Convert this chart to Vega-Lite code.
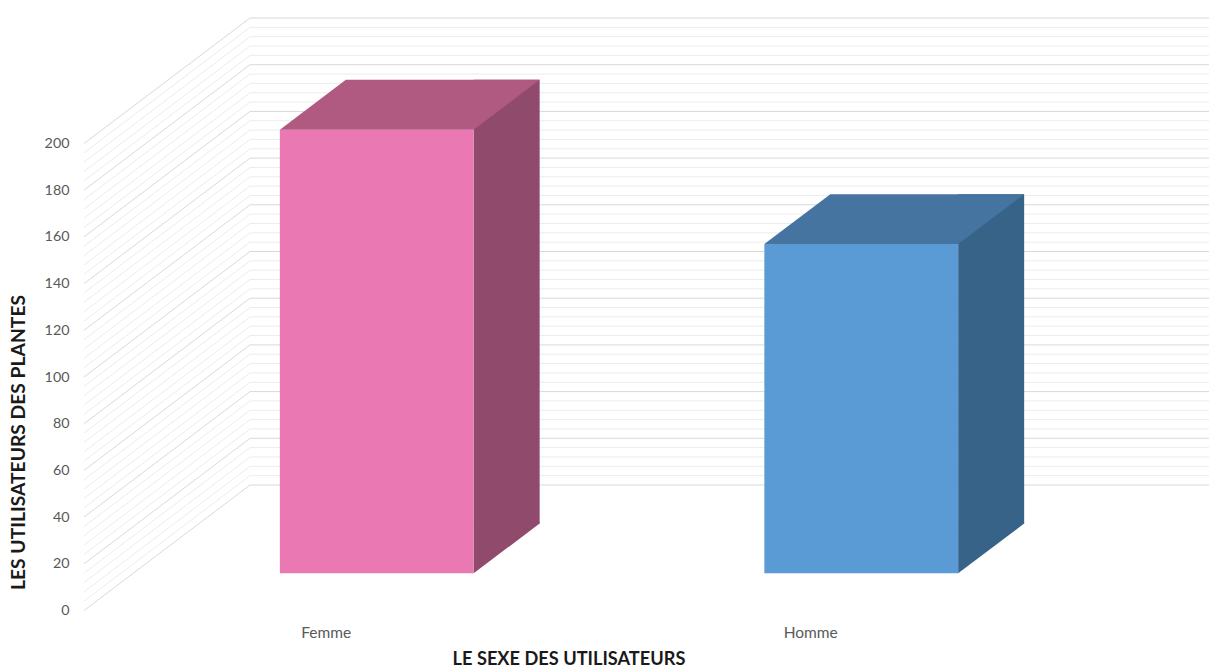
{
  "$schema": "https://vega.github.io/schema/vega-lite/v6.json",
  "width": 969,
  "height": 467,
  "autosize": {"type": "none"},
  "padding": {"left": 84, "top": 143.5, "right": 156, "bottom": 57.5},
  "background": "white",
  "config": {"view": {"stroke": null}, "font": "Lato", "axis": {"grid": false, "ticks": false, "domain": false}},
  "datasets": {
    "utilisateurs": [
      {"sexe": "Femme", "nombre": 190},
      {"sexe": "Homme", "nombre": 141}
    ],
    "grille_majeure": [
      {"v": 0}, {"v": 20}, {"v": 40}, {"v": 60}, {"v": 80}, {"v": 100},
      {"v": 120}, {"v": 140}, {"v": 160}, {"v": 180}, {"v": 200}
    ],
    "grille_mineure": [
      {"v": 4}, {"v": 8}, {"v": 12}, {"v": 16},
      {"v": 24}, {"v": 28}, {"v": 32}, {"v": 36},
      {"v": 44}, {"v": 48}, {"v": 52}, {"v": 56},
      {"v": 64}, {"v": 68}, {"v": 72}, {"v": 76},
      {"v": 84}, {"v": 88}, {"v": 92}, {"v": 96},
      {"v": 104}, {"v": 108}, {"v": 112}, {"v": 116},
      {"v": 124}, {"v": 128}, {"v": 132}, {"v": 136},
      {"v": 144}, {"v": 148}, {"v": 152}, {"v": 156},
      {"v": 164}, {"v": 168}, {"v": 172}, {"v": 176},
      {"v": 184}, {"v": 188}, {"v": 192}, {"v": 196}
    ]
  },
  "layer": [
    {
      "data": {"name": "grille_mineure"},
      "mark": {"type": "rule", "color": "#ececec", "strokeWidth": 1, "xOffset": 166, "x2Offset": 166, "yOffset": -125.5, "y2Offset": -125.5},
      "encoding": {
        "x": {"value": 0},
        "x2": {"value": "width"},
        "y": {"field": "v", "type": "quantitative"},
        "y2": {"field": "v"}
      }
    },
    {
      "data": {"name": "grille_mineure"},
      "mark": {"type": "rule", "color": "#ececec", "strokeWidth": 1, "x2Offset": 166, "y2Offset": -125.5},
      "encoding": {
        "x": {"value": 0},
        "x2": {"value": 0},
        "y": {"field": "v", "type": "quantitative"},
        "y2": {"field": "v"}
      }
    },
    {
      "data": {"name": "grille_majeure"},
      "mark": {"type": "rule", "color": "#d9d9d9", "strokeWidth": 1, "xOffset": 166, "x2Offset": 166, "yOffset": -125.5, "y2Offset": -125.5},
      "encoding": {
        "x": {"value": 0},
        "x2": {"value": "width"},
        "y": {"field": "v", "type": "quantitative"},
        "y2": {"field": "v"}
      }
    },
    {
      "data": {"name": "grille_majeure"},
      "mark": {"type": "rule", "color": "#d9d9d9", "strokeWidth": 1, "x2Offset": 166, "y2Offset": -125.5},
      "encoding": {
        "x": {"value": 0},
        "x2": {"value": 0},
        "y": {"field": "v", "type": "quantitative"},
        "y2": {"field": "v"}
      }
    },
    {
      "data": {"name": "utilisateurs"},
      "mark": {"type": "bar", "width": 66, "xOffset": 180.4, "x2Offset": 180.4, "yOffset": -87, "y2Offset": -87},
      "encoding": {
        "x": {"field": "sexe", "type": "nominal", "sort": ["Femme", "Homme"]},
        "y": {"field": "nombre", "type": "quantitative"},
        "color": {"field": "sexe", "type": "nominal", "scale": {"domain": ["Femme", "Homme"], "range": ["#8F4A6C", "#386389"]}, "legend": null}
      }
    },
    {
      "data": {"name": "utilisateurs"},
      "mark": {"type": "point", "shape": "M0,0L0,-51L66,-51L66,-49.8Z", "size": 4, "filled": true, "opacity": 1, "strokeWidth": 0, "xOffset": 147.4, "yOffset": -37.2},
      "encoding": {
        "x": {"field": "sexe", "type": "nominal", "sort": ["Femme", "Homme"]},
        "y": {"datum": 0, "type": "quantitative"},
        "color": {"field": "sexe", "type": "nominal", "scale": {"domain": ["Femme", "Homme"], "range": ["#8F4A6C", "#386389"]}, "legend": null}
      }
    },
    {
      "data": {"name": "utilisateurs"},
      "mark": {"type": "bar", "xOffset": 50.5, "x2Offset": 50.5, "yOffset": -37.2, "y2Offset": -37.2},
      "encoding": {
        "x": {
          "field": "sexe",
          "type": "nominal",
          "sort": ["Femme", "Homme"],
          "scale": {"paddingInner": 0.6, "paddingOuter": 0.3},
          "axis": {
            "title": "LE SEXE DES UTILISATEURS",
            "labelAngle": 0,
            "labelAlign": "center",
            "labelBaseline": "middle",
            "ticks": false,
            "domain": false,
            "labelPadding": 22,
            "labelFont": "Lato",
            "labelFontSize": 15.5,
            "labelColor": "#595959",
            "titleFont": "Lato",
            "titleFontSize": 18.2,
            "titleFontWeight": "bold",
            "titleColor": "#1a1a1a",
            "titleY": 48.5,
            "titleBaseline": "middle"
          }
        },
        "y": {
          "field": "nombre",
          "type": "quantitative",
          "scale": {"domain": [0, 200], "nice": false, "zero": true},
          "axis": {
            "title": "LES UTILISATEURS DES PLANTES",
            "values": [0, 20, 40, 60, 80, 100, 120, 140, 160, 180, 200],
            "ticks": false,
            "tickSize": 0,
            "domain": false,
            "grid": false,
            "labelPadding": 15,
            "labelFont": "Lato",
            "labelFontSize": 14.3,
            "labelColor": "#595959",
            "titleFont": "Lato",
            "titleFontSize": 19.3,
            "titleFontWeight": "bold",
            "titleColor": "#1a1a1a",
            "titleAngle": -90,
            "titleX": -65.5,
            "titleY": 298.5,
            "titleAlign": "center",
            "titleBaseline": "middle"
          }
        },
        "color": {"field": "sexe", "type": "nominal", "scale": {"domain": ["Femme", "Homme"], "range": ["#E978B3", "#5B9BD5"]}, "legend": null}
      }
    },
    {
      "data": {"name": "utilisateurs"},
      "mark": {"type": "point", "shape": "M-96.9,0L96.9,0L162.9,-49.8L-30.9,-49.8Z", "size": 4, "filled": true, "opacity": 1, "strokeWidth": 0, "xOffset": 50.5, "yOffset": -37.2},
      "encoding": {
        "x": {"field": "sexe", "type": "nominal", "sort": ["Femme", "Homme"]},
        "y": {"field": "nombre", "type": "quantitative"},
        "color": {"field": "sexe", "type": "nominal", "scale": {"domain": ["Femme", "Homme"], "range": ["#B05A82", "#44749F"]}, "legend": null}
      }
    }
  ],
  "resolve": {"scale": {"color": "independent"}}
}
